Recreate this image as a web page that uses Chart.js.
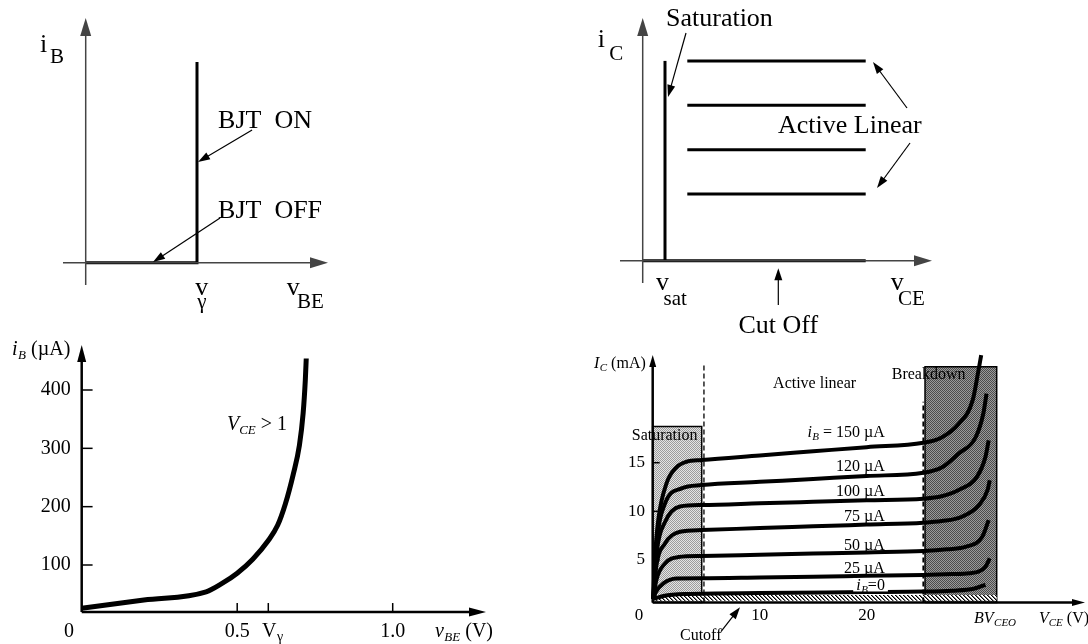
<!DOCTYPE html>
<html><head><meta charset="utf-8">
<script src="https://cdn.jsdelivr.net/npm/chart.js@4.4.0/dist/chart.umd.min.js"></script>
<style>html,body{margin:0;padding:0;background:#fff;}canvas{display:block;}</style>
</head><body>
<canvas id="c" width="1088" height="644"></canvas>
<script>
// ===== DATA =====
// Panel A: idealised input characteristic (normalised: v_gamma = 1, top = 1)
const idealInV = [0, 1, 1];
const idealInI = [0, 0, 1];
// Panel B: idealised output characteristic (normalised units)
const idealSatV = [1, 1];
const idealSatI = [0, 4.5];
const idealCutV = [0, 10];
const idealCutI = [0, 0];
const idealActiveV = [2, 10];
const idealActiveLevels = [1.5, 2.5, 3.5, 4.5];
// Panel C: input characteristic, i_B (uA) vs v_BE (V), V_CE > 1
const vBE = [0, 0.2, 0.40, 0.45, 0.5, 0.55, 0.6, 0.63, 0.655, 0.68, 0.70, 0.712, 0.719, 0.722];
const iBuA = [26, 40, 54, 68, 86, 110, 142, 168, 205, 255, 305, 360, 417, 454];
const iBTicks = [100, 200, 300, 400];
const vBETicks = [0.5, 0.6, 1.0];
const vBETickLabels = ['0.5', '', '1.0'];
// Panel D: output characteristics, I_C (mA) vs V_CE (V)
const vce150 = [0.05, 0.2, 0.52, 1.3, 2.2, 3.17, 4.57, 10, 15, 20, 25.3, 27, 28.6, 29.9, 30.4, 30.7];
const ic150  = [1.0, 5.0, 9.1, 12.9, 14.5, 15.1, 15.27, 15.74, 16.17, 16.6, 17.05, 17.6, 19.0, 21.4, 24.2, 26.05];
const vce120 = [0.05, 0.4, 1.15, 2.7, 4.57, 10, 15, 20, 25.3, 27, 28.6, 30.2, 30.9, 31.2];
const ic120  = [1.0, 7.05, 10.8, 12.36, 12.7, 13.03, 13.33, 13.64, 13.96, 14.5, 15.95, 17.66, 20.06, 22.1];
const vce100 = [0.05, 0.4, 1.15, 2.55, 4.57, 10, 15, 20, 25.3, 27, 28.6, 30.3, 31.1, 31.4];
const ic100  = [1.0, 6.0, 8.9, 10.5, 10.65, 10.82, 10.98, 11.14, 11.3, 11.55, 12.2, 13.55, 15.6, 17.3];
const vce75  = [0.05, 0.33, 1.15, 2.55, 4.57, 10, 15, 20, 25.3, 27, 28.9, 30.5, 31.3, 31.5];
const ic75   = [1.0, 4.3, 6.7, 7.9, 8.08, 8.28, 8.46, 8.64, 8.83, 9.0, 9.45, 10.65, 12.2, 13.2];
const vce50  = [0.05, 0.33, 1.15, 2.4, 4.57, 10, 15, 20, 25.3, 27.5, 29.3, 30.8, 31.4];
const ic50   = [1.0, 2.9, 4.65, 5.3, 5.41, 5.54, 5.66, 5.78, 5.92, 6.1, 6.37, 7.39, 9.1];
const vce25  = [0.05, 0.31, 1.0, 2.2, 4.57, 10, 15, 20, 25.3, 28, 29.6, 31.1, 31.5];
const ic25   = [1.0, 1.74, 2.6, 3.1, 3.12, 3.2, 3.28, 3.37, 3.46, 3.55, 3.63, 4.31, 5.17];
const vce0   = [0.05, 1, 3, 10, 20, 25.3, 28, 30, 31.1];
const ic0    = [1.0, 1.3, 1.5, 1.6, 1.7, 1.75, 1.85, 2.05, 2.45];
const curveLabels = ['i_B = 150 µA', '120 µA', '100 µA', '75 µA', '50 µA', '25 µA', 'i_B=0'];
const curveLabelI = [17.61, 14.18, 11.58, 9.04, 6.03, 3.69, 1.92];
const icTicks = [5, 10, 15];
const vceTicks = [10, 20];
const axisI = 0.62;
const satRegionV = [0, 4.58];
const satRegionI = [axisI, 18.72];
const breakdownV = [25.45, 32.15];
const breakdownI = [axisI, 24.87];
const cutoffI = [0.8, 1.4];
const satEdgeV = 4.79, satEdgeTop = 25.04;
const bdEdgeV = 25.29, bdEdgeTop = 21.27;

// ===== HELPERS =====
const W = 1088, H = 644;
const SERIF = '"Liberation Serif","Times New Roman",Times,serif';
const fnt = (s, it) => (it ? 'italic ' : '') + s + 'px ' + SERIF;
function mapAxis(p0, v0, p1, v1, size) {
  const k = (v1 - v0) / (p1 - p0);
  const a = v0 - p0 * k, b = v0 + (size - p0) * k;
  return { type: 'linear', display: false, bounds: 'data', min: Math.min(a, b), max: Math.max(a, b) };
}
const pts = (xs, ys) => xs.map((x, i) => ({ x, y: ys[i] }));
const rect = (xr, yr) => pts([xr[0], xr[0], xr[1], xr[1], xr[0]], [yr[0], yr[1], yr[1], yr[0], yr[0]]);

const cnv = document.getElementById('c');
const mctx = cnv.getContext('2d');
function checker(c1, c2) {
  const c = document.createElement('canvas'); c.width = c.height = 2;
  const g = c.getContext('2d');
  g.fillStyle = c1; g.fillRect(0, 0, 2, 2);
  g.fillStyle = c2; g.fillRect(0, 0, 1, 1); g.fillRect(1, 1, 1, 1);
  return mctx.createPattern(c, 'repeat');
}
function hatch() {
  const c = document.createElement('canvas'); c.width = c.height = 4;
  const g = c.getContext('2d');
  g.fillStyle = '#fff'; g.fillRect(0, 0, 4, 4);
  for (let i = 0; i < 4; i++) { g.fillStyle = '#000'; g.fillRect(i, i, 1, 1); g.fillStyle = '#777'; g.fillRect((i + 1) % 4, i, 1, 1); }
  return mctx.createPattern(c, 'repeat');
}

const line = (data, ax, opts) => Object.assign({
  data, xAxisID: 'x' + ax, yAxisID: 'y' + ax, borderColor: '#000', borderWidth: 3,
  pointRadius: 0, pointHoverRadius: 0, fill: false, tension: 0, order: 1, borderCapStyle: 'butt'
}, opts || {});
const smooth = { tension: 0.4, cubicInterpolationMode: 'monotone' };

const datasets = [
  // Panel A
  line(pts(idealInV, idealInI), 1, { borderJoinStyle: 'miter' }),
  // Panel B
  line(pts(idealSatV, idealSatI), 2),
  line(pts(idealCutV, idealCutI), 2),
  ...idealActiveLevels.map(l => line(pts(idealActiveV, [l, l]), 2)),
  // Panel C
  line(pts(vBE, iBuA), 3, Object.assign({ borderWidth: 5 }, smooth)),
  // Panel D regions
  line(rect(satRegionV, satRegionI), 4, { fill: 'shape', backgroundColor: checker('#e4e4e4', '#9c9c9c'), borderWidth: 1.5, order: 6 }),
  line(rect(breakdownV, breakdownI), 4, { fill: 'shape', backgroundColor: checker('#9a9a9a', '#4c4c4c'), borderWidth: 1.5, order: 6 }),
  line(rect([0, breakdownV[1]], cutoffI), 4, { fill: 'shape', backgroundColor: hatch(), borderWidth: 0, order: 5 }),
  line(pts([satEdgeV, satEdgeV], [axisI, satEdgeTop]), 4, { borderWidth: 1.3, borderDash: [5, 3], order: 4 }),
  line(pts([bdEdgeV, bdEdgeV], [axisI, bdEdgeTop]), 4, { borderWidth: 1.8, borderDash: [5, 3], order: 4 }),
  // Panel D curves
  ...[[vce150, ic150], [vce120, ic120], [vce100, ic100], [vce75, ic75], [vce50, ic50], [vce25, ic25], [vce0, ic0]]
    .map(([v, i]) => line(pts(v, i), 4, Object.assign({ borderWidth: 4 }, smooth)))
];

// ===== ANNOTATION DRAWING =====
function head(ctx, x0, y0, x1, y1, len, hw) {
  const a = Math.atan2(y1 - y0, x1 - x0), c = Math.cos(a), s = Math.sin(a);
  ctx.beginPath();
  ctx.moveTo(x1, y1);
  ctx.lineTo(x1 - len * c + hw * s, y1 - len * s - hw * c);
  ctx.lineTo(x1 - len * c - hw * s, y1 - len * s + hw * c);
  ctx.closePath(); ctx.fill();
}
function arrow(ctx, p0, p1, lw, color, len, hw) {
  const a = Math.atan2(p1[1] - p0[1], p1[0] - p0[0]);
  ctx.strokeStyle = color; ctx.fillStyle = color; ctx.lineWidth = lw;
  ctx.beginPath(); ctx.moveTo(p0[0], p0[1]);
  ctx.lineTo(p1[0] - Math.cos(a) * len * 0.7, p1[1] - Math.sin(a) * len * 0.7); ctx.stroke();
  head(ctx, p0[0], p0[1], p1[0], p1[1], len, hw);
}
function rich(ctx, x, y, parts, align) {
  let total = 0;
  parts.forEach(p => { ctx.font = p[1]; total += (p[2] || 0) + ctx.measureText(p[0]).width; });
  let cx = align === 'right' ? x - total : align === 'center' ? x - total / 2 : x;
  const x0 = cx;
  parts.forEach(p => { ctx.font = p[1]; cx += (p[2] || 0); ctx.fillText(p[0], cx, y + (p[3] || 0)); cx += ctx.measureText(p[0]).width; });
  return [x0, total];
}

const figurePlugin = {
  id: 'figure',
  afterDatasetsDraw(chart) {
    const ctx = chart.ctx;
    const P = (n, x, y) => [chart.scales['x' + n].getPixelForValue(x), chart.scales['y' + n].getPixelForValue(y)];
    ctx.save();
    ctx.textBaseline = 'alphabetic';
    // axes with arrowheads
    const axes = [
      [1, [0, -0.111], [0, 1.219], 1.5, '#444', 18, 5.5],
      [1, [-0.204, 0], [2.177, 0], 1.5, '#444', 18, 5.5],
      [2, [0, -0.502], [0, 5.466], 1.5, '#444', 18, 5.5],
      [2, [-1.018, 0], [12.973, 0], 1.5, '#444', 18, 5.5],
      [3, [0, 19.4], [0, 477], 2.5, '#000', 17, 4.5],
      [3, [0, 19.4], [1.30, 19.4], 2.5, '#000', 17, 4.5],
      [4, [0, axisI], [0, 26.07], 2.5, '#000', 12, 3.5],
      [4, [0, axisI], [40.4, axisI], 2.5, '#000', 13, 3.5]
    ];
    axes.forEach(a => arrow(ctx, P(a[0], a[1][0], a[1][1]), P(a[0], a[2][0], a[2][1]), a[3], a[4], a[5], a[6]));
    // pointer arrows
    const ptrs = [
      [1, [1.495, 0.661], [1.009, 0.502]],
      [1, [1.207, 0.223], [0.605, 0.003]],
      [2, [1.942, 5.128], [1.135, 3.687]],
      [2, [11.852, 3.439], [10.327, 4.475]],
      [2, [11.987, 2.651], [10.507, 1.637]],
      [2, [6.081, -0.998], [6.081, -0.171]],
      [4, [6.38, -2.36], [8.16, 0.14]]
    ];
    ptrs.forEach(a => arrow(ctx, P(a[0], a[1][0], a[1][1]), P(a[0], a[2][0], a[2][1]), 1.2, '#000', 12, 4));
    // tick marks
    ctx.strokeStyle = '#000'; ctx.lineWidth = 1.5;
    iBTicks.forEach(v => { const a = P(3, 0, v), b = P(3, 0.035, v); ctx.beginPath(); ctx.moveTo(a[0], a[1]); ctx.lineTo(b[0], b[1]); ctx.stroke(); });
    vBETicks.forEach(v => { const a = P(3, v, 19.4), b = P(3, v, 34.8); ctx.beginPath(); ctx.moveTo(a[0], a[1]); ctx.lineTo(b[0], b[1]); ctx.stroke(); });
    icTicks.forEach(v => { const a = P(4, 0, v), b = P(4, 0.65, v); ctx.beginPath(); ctx.moveTo(a[0], a[1]); ctx.lineTo(b[0], b[1]); ctx.stroke(); });
    ctx.fillStyle = '#000';
    const T = (n, x, y, parts, align) => { const p = P(n, x, y); return rich(ctx, p[0], p[1], parts, align); };
    // Panel A text
    T(1, -0.411, 1.05, [['i', fnt(26)], ['B', fnt(21), 2.8, 10.7]]);
    T(1, 1.189, 0.671, [['BJT  ON', fnt(26)]]);
    T(1, 1.189, 0.223, [['BJT  OFF', fnt(26)]]);
    T(1, 0.984, -0.161, [['v', fnt(26)], ['γ', fnt(21), -11, 13]]);
    T(1, 1.806, -0.161, [['v', fnt(26)], ['BE', fnt(21), -2.7, 13]]);
    // Panel B text
    T(2, -2.018, 4.82, [['i', fnt(26)], ['C', fnt(21), 4.4, 13.3]]);
    T(2, 1.045, 5.286, [['Saturation', fnt(26)]]);
    T(2, 6.067, 2.876, [['Active Linear', fnt(26)]]);
    T(2, 6.081, -1.628, [['Cut Off', fnt(26)]], 'center');
    T(2, 0.596, -0.66, [['v', fnt(26)], ['sat', fnt(21), -5.5, 15]]);
    T(2, 11.121, -0.66, [['v', fnt(26)], ['CE', fnt(21), -5.7, 15]]);
    // Panel C text
    T(3, -0.224, 460, [['i', fnt(20, true)], ['B', fnt(13, true), 0.5, 4], [' (µA)', fnt(20)]]);
    ctx.textBaseline = 'middle';
    iBTicks.forEach(v => T(3, -0.035, v, [[String(v), fnt(20)]], 'right'));
    icTicks.forEach(v => T(4, -0.72, v, [[String(v), fnt(17)]], 'right'));
    ctx.textBaseline = 'alphabetic';
    T(3, -0.041, -23, [['0', fnt(20)]], 'center');
    vBETicks.forEach((v, i) => { if (vBETickLabels[i]) T(3, v, -23, [[vBETickLabels[i], fnt(20)]], 'center'); });
    T(3, 0.58, -23, [['V', fnt(20)], ['γ', fnt(14), 0.5, 4]]);
    T(3, 1.136, -23, [['v', fnt(20, true)], ['BE', fnt(13, true), 0.5, 4], [' (V)', fnt(20)]]);
    T(3, 0.467, 331.4, [['V', fnt(20, true)], ['CE', fnt(13, true), 0, 4], [' > 1', fnt(20)]]);
    // Panel D text
    T(4, -5.49, 24.7, [['I', fnt(16, true)], ['C', fnt(11, true), 0.5, 3], [' (mA)', fnt(16)]]);
    T(4, -1.28, -1.17, [['0', fnt(17)]], 'center');
    vceTicks.forEach(v => T(4, v, -1.17, [[String(v), fnt(17)]], 'center'));
    T(4, 30.03, -1.47, [['BV', fnt(16, true)], ['CEO', fnt(11, true), 0.5, 3]]);
    T(4, 36.1, -1.47, [['V', fnt(16, true)], ['CE', fnt(11, true), 0, 3], [' (V)', fnt(16)]]);
    T(4, 2.55, -3.22, [['Cutoff', fnt(16)]]);
    T(4, 11.25, 22.65, [['Active linear', fnt(16)]]);
    T(4, 22.34, 23.57, [['Breakdown', fnt(16)]]);
    T(4, -1.96, 17.33, [['Saturation', fnt(16)]]);
    curveLabels.forEach((lab, k) => {
      const parts = lab.startsWith('i_B')
        ? [['i', fnt(16, true)], ['B', fnt(11, true), 0.5, 3], [lab.slice(3), fnt(16)]]
        : [[lab, fnt(16)]];
      if (k === curveLabels.length - 1) {
        const p = P(4, 21.7, curveLabelI[k]);
        let total = 0; parts.forEach(q => { ctx.font = q[1]; total += (q[2] || 0) + ctx.measureText(q[0]).width; });
        ctx.fillStyle = '#fff'; ctx.fillRect(p[0] - total - 3, p[1] - 12, total + 6, 13.5); ctx.fillStyle = '#000';
      }
      T(4, 21.7, curveLabelI[k], parts, 'right');
    });
    ctx.restore();
  }
};

new Chart(cnv, {
  type: 'line',
  data: { datasets },
  options: {
    responsive: false, animation: false, devicePixelRatio: 1, events: [],
    layout: { padding: 0 },
    plugins: { legend: { display: false }, tooltip: { enabled: false }, title: { display: false } },
    scales: {
      x1: mapAxis(85.7, 0, 197, 1, W),      y1: mapAxis(262.7, 0, 62, 1, H),
      x2: mapAxis(642.7, 0, 865.7, 10, W),  y2: mapAxis(260.7, 0, 216.3, 1, H),
      x3: mapAxis(81.7, 0, 392.7, 1, W),    y3: mapAxis(565, 100, 390, 400, H),
      x4: mapAxis(652.7, 0, 866.7, 20, W),  y4: mapAxis(560, 5, 462.7, 15, H)
    }
  },
  plugins: [figurePlugin]
});
</script>
</body></html>
